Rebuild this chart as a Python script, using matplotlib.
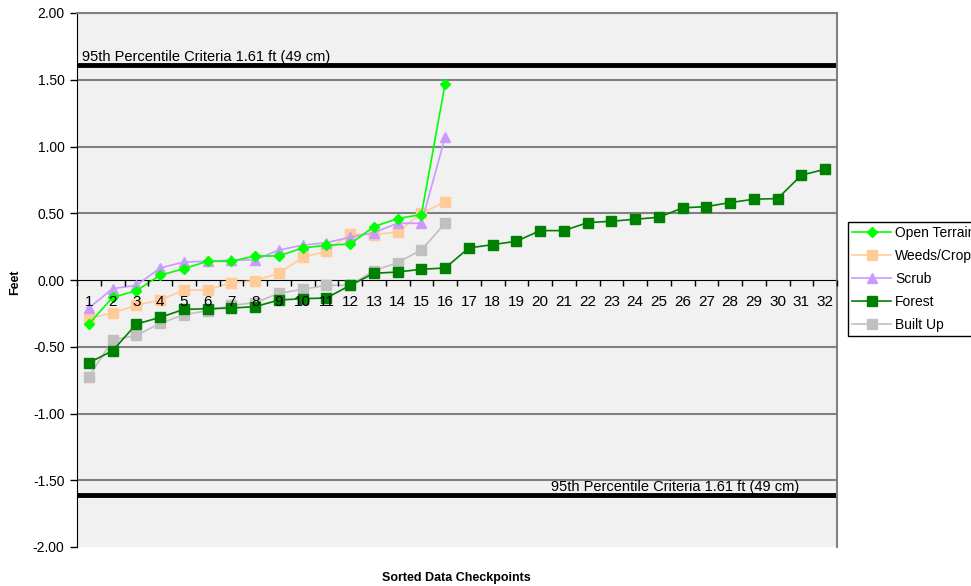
import matplotlib
matplotlib.use("Agg")
import matplotlib.pyplot as plt
from matplotlib.ticker import FormatStrFormatter

plt.rcParams['font.family'] = ['Liberation Sans', 'DejaVu Sans']

# checkpoint indices
checkpoints = list(range(1, 33))

# sorted residuals (feet)
open_terrain = [-0.33, -0.13, -0.08, 0.035, 0.085, 0.14, 0.14, 0.18,
                0.18, 0.24, 0.26, 0.27, 0.40, 0.46, 0.49, 1.47]
weeds_crop = [-0.29, -0.245, -0.19, -0.15, -0.075, -0.075, -0.02, -0.005,
              0.05, 0.17, 0.215, 0.345, 0.34, 0.36, 0.50, 0.585]
scrub = [-0.21, -0.065, -0.04, 0.09, 0.135, 0.14, 0.15, 0.15,
         0.225, 0.26, 0.28, 0.32, 0.355, 0.425, 0.425, 1.07]
forest = [-0.62, -0.53, -0.33, -0.28, -0.22, -0.215, -0.21, -0.20,
          -0.15, -0.14, -0.135, -0.04, 0.05, 0.06, 0.08, 0.09,
          0.24, 0.265, 0.29, 0.37, 0.37, 0.43, 0.44, 0.455,
          0.47, 0.54, 0.55, 0.58, 0.605, 0.61, 0.785, 0.83]
built_up = [-0.725, -0.45, -0.415, -0.325, -0.26, -0.23, -0.19, -0.17,
            -0.10, -0.07, -0.04, -0.04, 0.07, 0.13, 0.225, 0.425]

criteria = 1.61
criteria_label = "95th Percentile Criteria 1.61 ft (49 cm)"

fig = plt.figure(figsize=(9.71, 5.86), dpi=100)
ax = fig.add_axes([77 / 971, 39 / 586, 760 / 971, 534 / 586])
ax.set_facecolor('#f1f1f1')

# gridlines
for y in [-1.5, -1.0, -0.5, 0.5, 1.0, 1.5, 2.0]:
    ax.axhline(y, color='#808080', lw=1.5, zorder=1)

# criteria lines
ax.axhline(criteria, color='black', lw=3.5, zorder=2)
ax.axhline(-criteria, color='black', lw=3.5, zorder=2)
ax.text(0.7, criteria + 0.005, criteria_label, fontsize=10.5, va='bottom', ha='left', zorder=3)
ax.text(20.45, -criteria + 0.005, criteria_label, fontsize=10.5, va='bottom', ha='left', zorder=3)

n = len(open_terrain)
ax.plot(checkpoints[:n], open_terrain, color='#00ff00', lw=1.2, marker='D', ms=5,
        label='Open Terrain', zorder=6)
ax.plot(checkpoints[:n], weeds_crop, color='#ffcc99', lw=1.2, marker='s', ms=7,
        label='Weeds/Crop', zorder=5)
ax.plot(checkpoints[:n], scrub, color='#cc99ff', lw=1.2, marker='^', ms=7,
        label='Scrub', zorder=5)
ax.plot(checkpoints, forest, color='#008000', lw=1.2, marker='s', ms=7,
        label='Forest', zorder=4)
ax.plot(checkpoints[:n], built_up, color='#c0c0c0', lw=1.2, marker='s', ms=7,
        label='Built Up', zorder=3)

ax.set_xlim(0.5, 32.5)
ax.set_ylim(-2.0, 2.0)
ax.set_yticks([-2.0, -1.5, -1.0, -0.5, 0.0, 0.5, 1.0, 1.5, 2.0])
ax.yaxis.set_major_formatter(FormatStrFormatter('%.2f'))
ax.tick_params(axis='y', labelsize=10, length=5, width=1, direction='out', pad=4)

# category axis crossing at zero, labels drawn over the series
ax.spines['bottom'].set_position(('data', 0))
ax.spines['bottom'].set_zorder(2)
ax.spines['top'].set_color('#808080')
ax.spines['right'].set_color('#808080')
ax.spines['top'].set_linewidth(1.5)
ax.spines['right'].set_linewidth(1.5)
ax.xaxis.set_zorder(7)
ax.set_xticks(checkpoints)
ax.set_xticklabels([str(c) for c in checkpoints])
ax.set_xticks([c + 0.5 for c in range(0, 33)], minor=True)
ax.tick_params(axis='x', which='major', length=0, labelsize=11, pad=11)
ax.tick_params(axis='x', which='minor', length=4, width=1, direction='out')

fig.text(15 / 971, 1 - 282 / 586, 'Feet', fontsize=9, fontweight='bold',
         rotation=90, ha='center', va='center')
fig.text(0.47, 0.009, 'Sorted Data Checkpoints', fontsize=9, fontweight='bold', ha='center')

leg = ax.legend(loc='upper left', bbox_to_anchor=(848 / 971, 364 / 586),
                bbox_transform=fig.transFigure, fontsize=10, frameon=True,
                fancybox=False, edgecolor='black', framealpha=1,
                labelspacing=0.65, handlelength=2.8, handletextpad=0.3,
                borderpad=0.3, borderaxespad=0)
leg.get_frame().set_linewidth(1)

fig.savefig('out.png', dpi=100)
